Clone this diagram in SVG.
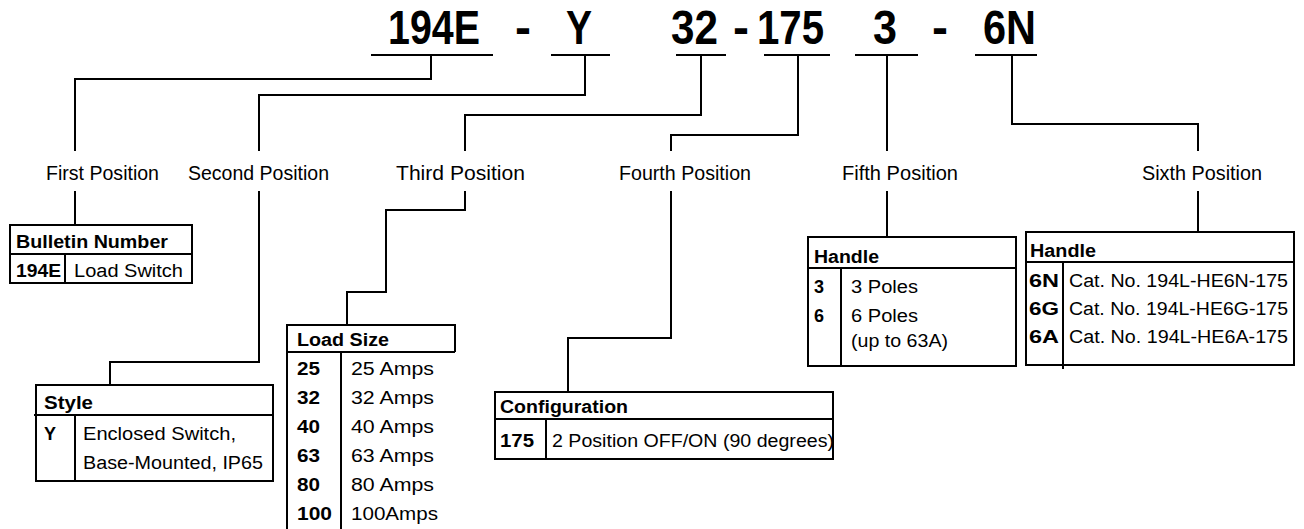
<svg xmlns="http://www.w3.org/2000/svg" width="1304" height="529" viewBox="0 0 1304 529">
<style>
  .ln { fill: none; stroke: #000; stroke-width: 2; }
  .hd { font-family: "Liberation Sans", Arial, sans-serif; font-weight: bold; font-size: 48px; fill: #000; }
  .lb { font-family: "Liberation Sans", Arial, sans-serif; font-size: 20px; fill: #000; }
  .tb { font-family: "Liberation Sans", Arial, sans-serif; font-size: 18px; fill: #000; }
  .tbb { font-family: "Liberation Sans", Arial, sans-serif; font-size: 18px; font-weight: bold; fill: #000; }
</style>
<rect width="1304" height="529" fill="#fff"/>

<g id="header">
  <text class="hd" x="388" y="44" textLength="92" lengthAdjust="spacingAndGlyphs">194E</text>
  <text class="hd" x="523" y="44" text-anchor="middle">-</text>
  <text class="hd" x="566" y="44" textLength="26" lengthAdjust="spacingAndGlyphs">Y</text>
  <text class="hd" x="671" y="44" textLength="47" lengthAdjust="spacingAndGlyphs">32</text>
  <text class="hd" x="741" y="44" text-anchor="middle">-</text>
  <text class="hd" x="757" y="44" textLength="67" lengthAdjust="spacingAndGlyphs">175</text>
  <text class="hd" x="873" y="44" textLength="24" lengthAdjust="spacingAndGlyphs">3</text>
  <text class="hd" x="940" y="44" text-anchor="middle">-</text>
  <text class="hd" x="983" y="44" textLength="53" lengthAdjust="spacingAndGlyphs">6N</text>
  <path class="ln" d="M371,55 H493 M551,55 H610 M676,55 H726 M764,55 H830 M855,55 H918 M975,55 H1037"/>
</g>

<g id="labels">
  <text class="lb" x="46" y="180" textLength="113" lengthAdjust="spacingAndGlyphs">First Position</text>
  <text class="lb" x="188" y="180" textLength="141" lengthAdjust="spacingAndGlyphs">Second Position</text>
  <text class="lb" x="396" y="180" textLength="129" lengthAdjust="spacingAndGlyphs">Third Position</text>
  <text class="lb" x="619" y="180" textLength="132" lengthAdjust="spacingAndGlyphs">Fourth Position</text>
  <text class="lb" x="842" y="180" textLength="116" lengthAdjust="spacingAndGlyphs">Fifth Position</text>
  <text class="lb" x="1142" y="180" textLength="120" lengthAdjust="spacingAndGlyphs">Sixth Position</text>
</g>

<g id="connectors">
  <path class="ln" d="M431,55 V79 H75 V151 M75,191 V225"/>
  <path class="ln" d="M585,55 V95 H259 V151 M259,191 V362 H110 V385"/>
  <path class="ln" d="M701,55 V115 H465 V151 M465,191 V210 H386 V292 H347 V325"/>
  <path class="ln" d="M798,55 V135 H671 V151 M671,191 V338 H568 V392"/>
  <path class="ln" d="M887,55 V151 M887,191 V237"/>
  <path class="ln" d="M1012,55 V124 H1198 V151 M1198,191 V232"/>
</g>

<g id="bulletin">
  <rect class="ln" x="10" y="225" width="182" height="58"/>
  <path class="ln" d="M10,254 H192 M65,254 V283"/>
  <text class="tbb" x="16" y="248" textLength="152" lengthAdjust="spacingAndGlyphs">Bulletin Number</text>
  <text class="tbb" x="16" y="277" textLength="45" lengthAdjust="spacingAndGlyphs">194E</text>
  <text class="tb" x="74" y="277" textLength="109" lengthAdjust="spacingAndGlyphs">Load Switch</text>
</g>

<g id="style">
  <rect class="ln" x="36" y="385" width="237" height="96"/>
  <path class="ln" d="M34,415 H273 M75,415 V481"/>
  <text class="tbb" x="44" y="409" textLength="49" lengthAdjust="spacingAndGlyphs">Style</text>
  <text class="tbb" x="44" y="440">Y</text>
  <text class="tb" x="83" y="440" textLength="153" lengthAdjust="spacingAndGlyphs">Enclosed Switch,</text>
  <text class="tb" x="83" y="469" textLength="180" lengthAdjust="spacingAndGlyphs">Base-Mounted, IP65</text>
</g>

<g id="loadsize">
  <path class="ln" d="M287,529 V325 H455 V352 M287,352 H455 M341,352 V529"/>
  <text class="tbb" x="297" y="346" textLength="92" lengthAdjust="spacingAndGlyphs">Load Size</text>
  <text class="tbb" x="297" y="375" textLength="23" lengthAdjust="spacingAndGlyphs">25</text>
  <text class="tb" x="351" y="375" textLength="83" lengthAdjust="spacingAndGlyphs">25 Amps</text>
  <text class="tbb" x="297" y="404" textLength="23" lengthAdjust="spacingAndGlyphs">32</text>
  <text class="tb" x="351" y="404" textLength="83" lengthAdjust="spacingAndGlyphs">32 Amps</text>
  <text class="tbb" x="297" y="433" textLength="23" lengthAdjust="spacingAndGlyphs">40</text>
  <text class="tb" x="351" y="433" textLength="83" lengthAdjust="spacingAndGlyphs">40 Amps</text>
  <text class="tbb" x="297" y="462" textLength="23" lengthAdjust="spacingAndGlyphs">63</text>
  <text class="tb" x="351" y="462" textLength="83" lengthAdjust="spacingAndGlyphs">63 Amps</text>
  <text class="tbb" x="297" y="491" textLength="23" lengthAdjust="spacingAndGlyphs">80</text>
  <text class="tb" x="351" y="491" textLength="83" lengthAdjust="spacingAndGlyphs">80 Amps</text>
  <text class="tbb" x="297" y="520" textLength="35" lengthAdjust="spacingAndGlyphs">100</text>
  <text class="tb" x="351" y="520" textLength="87" lengthAdjust="spacingAndGlyphs">100Amps</text>
</g>

<g id="configuration">
  <rect class="ln" x="495" y="392" width="338" height="67"/>
  <path class="ln" d="M495,419 H833 M546,419 V459"/>
  <text class="tbb" x="500" y="413" textLength="128" lengthAdjust="spacingAndGlyphs">Configuration</text>
  <text class="tbb" x="500" y="447" textLength="34" lengthAdjust="spacingAndGlyphs">175</text>
  <text class="tb" x="552" y="447" textLength="282" lengthAdjust="spacingAndGlyphs">2 Position OFF/ON (90 degrees)</text>
</g>

<g id="handle5">
  <rect class="ln" x="808" y="237" width="208" height="129"/>
  <path class="ln" d="M808,268 H1016 M841,268 V366"/>
  <text class="tbb" x="814" y="263" textLength="65" lengthAdjust="spacingAndGlyphs">Handle</text>
  <text class="tbb" x="814" y="293">3</text>
  <text class="tb" x="851" y="293" textLength="67" lengthAdjust="spacingAndGlyphs">3 Poles</text>
  <text class="tbb" x="814" y="322">6</text>
  <text class="tb" x="851" y="322" textLength="67" lengthAdjust="spacingAndGlyphs">6 Poles</text>
  <text class="tb" x="851" y="347" textLength="97" lengthAdjust="spacingAndGlyphs">(up to 63A)</text>
</g>

<g id="handle6">
  <rect class="ln" x="1026" y="232" width="268" height="133"/>
  <path class="ln" d="M1026,262 H1294 M1063,262 V369"/>
  <text class="tbb" x="1030" y="257" textLength="66" lengthAdjust="spacingAndGlyphs">Handle</text>
  <text class="tbb" x="1029" y="287" textLength="30" lengthAdjust="spacingAndGlyphs">6N</text>
  <text class="tb" x="1069" y="287" textLength="219" lengthAdjust="spacingAndGlyphs">Cat. No. 194L-HE6N-175</text>
  <text class="tbb" x="1029" y="315" textLength="30" lengthAdjust="spacingAndGlyphs">6G</text>
  <text class="tb" x="1069" y="315" textLength="219" lengthAdjust="spacingAndGlyphs">Cat. No. 194L-HE6G-175</text>
  <text class="tbb" x="1029" y="343" textLength="30" lengthAdjust="spacingAndGlyphs">6A</text>
  <text class="tb" x="1069" y="343" textLength="219" lengthAdjust="spacingAndGlyphs">Cat. No. 194L-HE6A-175</text>
</g>
</svg>
